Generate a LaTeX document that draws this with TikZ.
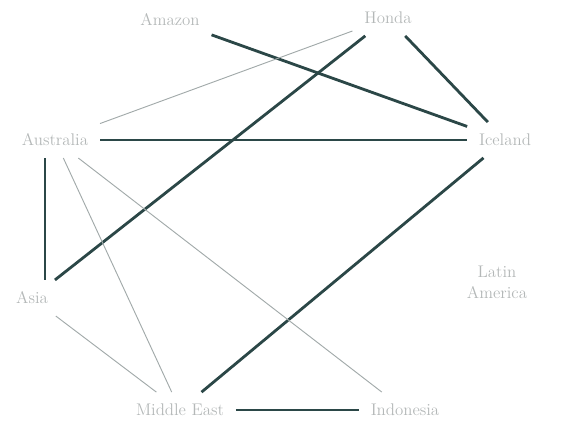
\documentclass[tikz,border=0pt]{standalone}
\usepackage{xcolor}
\definecolor{labelgrey}{HTML}{B4B8B8}
\definecolor{strongcol}{HTML}{2B4747}
\definecolor{weakcol}{HTML}{A2AAAA}
\usepackage{tikz}
\usetikzlibrary{positioning, calc}

\begin{document}
\begin{tikzpicture}[x=0.03cm, y=-0.03cm,
  lbl/.style={text=labelgrey, font=\Large, align=center, inner sep=10pt},
  strong/.style={draw=strongcol, line width=2.4pt},
  weak/.style={draw=weakcol, line width=0.8pt}]
  \useasboundingbox (0,0) rectangle (567,422);
  % places
  \foreach \id/\x/\y/\txt in {
    amazon/170/20/Amazon,
    honda/388/18/Honda,
    australia/55/140/Australia,
    iceland/505/140/Iceland,
    latin/497/282/{Latin\\America},
    asia/32/298/Asia,
    mideast/180/410/{Middle East},
    indonesia/405/410/Indonesia%
  } {
    \node[lbl] (\id) at (\x,\y) {\txt};
  }
  % strong links
  \foreach \a/\b in {amazon/iceland, honda/iceland, honda/asia,
                     australia/iceland, iceland/mideast, mideast/indonesia}
    \draw[strong] (\a) -- (\b);
  \draw[strong] ([xshift=-0.3cm]australia.south) -- ([xshift=-0.3cm]australia.south |- asia.north);
  % weak links
  \foreach \a/\b in {honda/australia, australia/mideast, australia/indonesia, asia/mideast}
    \draw[weak] (\a) -- (\b);
\end{tikzpicture}
\end{document}
